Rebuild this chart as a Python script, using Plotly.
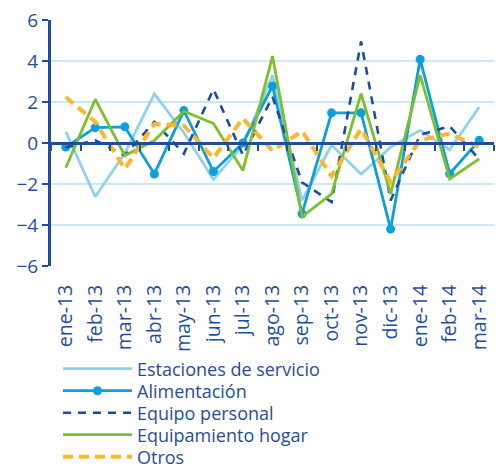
import plotly.graph_objects as go

categories = ["ene-13", "feb-13", "mar-13", "abr-13", "may-13", "jun-13", "jul-13",
              "ago-13", "sep-13", "oct-13", "nov-13", "dic-13", "ene-14", "feb-14", "mar-14"]

estaciones = [0.55, -2.62, -0.5, 2.4, 0.5, -1.78, -0.1, 3.3, -2.8, -0.1, -1.52, -0.2, 0.62, -0.33, 1.76]
alimentacion = [-0.2, 0.75, 0.79, -1.51, 1.58, -1.39, 0.0, 2.78, -3.45, 1.47, 1.47, -4.2, 4.08, -1.5, 0.13]
equipo_personal = [-0.22, 0.13, -0.6, 1.03, -0.52, 2.62, -0.6, 2.25, -1.92, -2.88, 4.95, -2.8, 0.4, 0.82, -0.8]
equipamiento_hogar = [-1.21, 2.13, -0.61, 0.12, 1.55, 0.95, -1.34, 4.24, -3.6, -2.48, 2.41, -2.48, 3.31, -1.75, -0.77]
otros = [2.24, 1.03, -1.26, 0.93, 0.85, -0.73, 1.2, -0.38, 0.58, -1.62, 0.7, -1.9, 0.13, 0.46, -0.2]

y_ticks = [-6, -4, -2, 0, 2, 4, 6]

DARK = "#1f4e9e"
FONT = "Open Sans"

W, H = 496, 469
PLOT_TOP, PLOT_BOTTOM, PLOT_LEFT, PLOT_RIGHT = 20, 266, 51, 494
ROW_CENTERS = [369, 391, 413, 435, 457]

fig = go.Figure()
fig.add_trace(go.Scatter(x=categories, y=estaciones, name="Estaciones de servicio",
                         mode="lines", line=dict(color="#8fd1f2", width=2.8), legend="legend"))
fig.add_trace(go.Scatter(x=categories, y=alimentacion, name="Alimentación",
                         mode="lines+markers", line=dict(color="#0a9fdd", width=2.8),
                         marker=dict(size=9, color="#0a9fdd"), legend="legend2"))
fig.add_trace(go.Scatter(x=categories, y=equipo_personal, name="Equipo personal",
                         mode="lines", line=dict(color="#1a4d9c", width=2.6, dash="8px,7px"),
                         legend="legend3"))
fig.add_trace(go.Scatter(x=categories, y=equipamiento_hogar, name="Equipamiento hogar",
                         mode="lines", line=dict(color="#7cc02c", width=2.8), legend="legend4"))
fig.add_trace(go.Scatter(x=categories, y=otros, name="Otros",
                         mode="lines", line=dict(color="#ffb52e", width=4, dash="10px,6px"),
                         legend="legend5"))

# zero-line axis with boundary ticks (no labels)
fig.add_trace(go.Scatter(x=categories, y=[None]*len(categories), xaxis="x2",
                         showlegend=False, hoverinfo="skip"))

legend_common = dict(x=58 / W, xanchor="left", yanchor="middle", orientation="v",
                     font=dict(size=18, color=DARK, family=FONT), itemwidth=69,
                     bgcolor="rgba(0,0,0,0)", borderwidth=0)

layout_legends = {}
for i, yc in enumerate(ROW_CENTERS):
    key = "legend" if i == 0 else f"legend{i+1}"
    layout_legends[key] = dict(legend_common, y=1 - yc / H)

xdom = [PLOT_LEFT / W, PLOT_RIGHT / W]
ydom = [1 - PLOT_BOTTOM / H, 1 - PLOT_TOP / H]
zero_pos = (ydom[0] + ydom[1]) / 2

fig.update_layout(
    width=W, height=H,
    margin=dict(l=0, r=0, t=0, b=0, autoexpand=False),
    plot_bgcolor="white", paper_bgcolor="white",
    font=dict(family=FONT, color=DARK, size=17),
    xaxis=dict(type="category", categoryorder="array", categoryarray=categories,
               domain=xdom, range=[-0.5, 14.5], showgrid=False, showline=False, zeroline=False,
               tickangle=-90, ticks="outside", ticklen=10, tickcolor="rgba(0,0,0,0)",
               tickfont=dict(size=19.5, color=DARK, family=FONT), automargin=False),
    xaxis2=dict(type="category", categoryorder="array", categoryarray=categories,
                domain=xdom, range=[-0.5, 14.5], overlaying="x", anchor="free",
                position=zero_pos,
                showline=True, linecolor=DARK, linewidth=2.5, ticks="outside",
                tickson="boundaries", ticklen=6, tickwidth=2, tickcolor=DARK,
                showticklabels=False, showgrid=False, zeroline=False, automargin=False),
    yaxis=dict(range=[-6, 6], domain=ydom, tickvals=y_ticks, showgrid=True,
               gridcolor="#cbe8f6", gridwidth=1.5, zeroline=False, showline=True,
               linecolor=DARK, linewidth=3, ticks="outside", ticklen=6, tickwidth=2,
               tickcolor=DARK, tickfont=dict(size=19, color=DARK, family=FONT),
               automargin=False),
    showlegend=True,
    **layout_legends,
)

fig.write_html("out.html", config={"displayModeBar": False},
               post_script="document.body.style.margin='0';document.body.style.padding='0';"
                           "document.body.style.overflow='hidden';")
